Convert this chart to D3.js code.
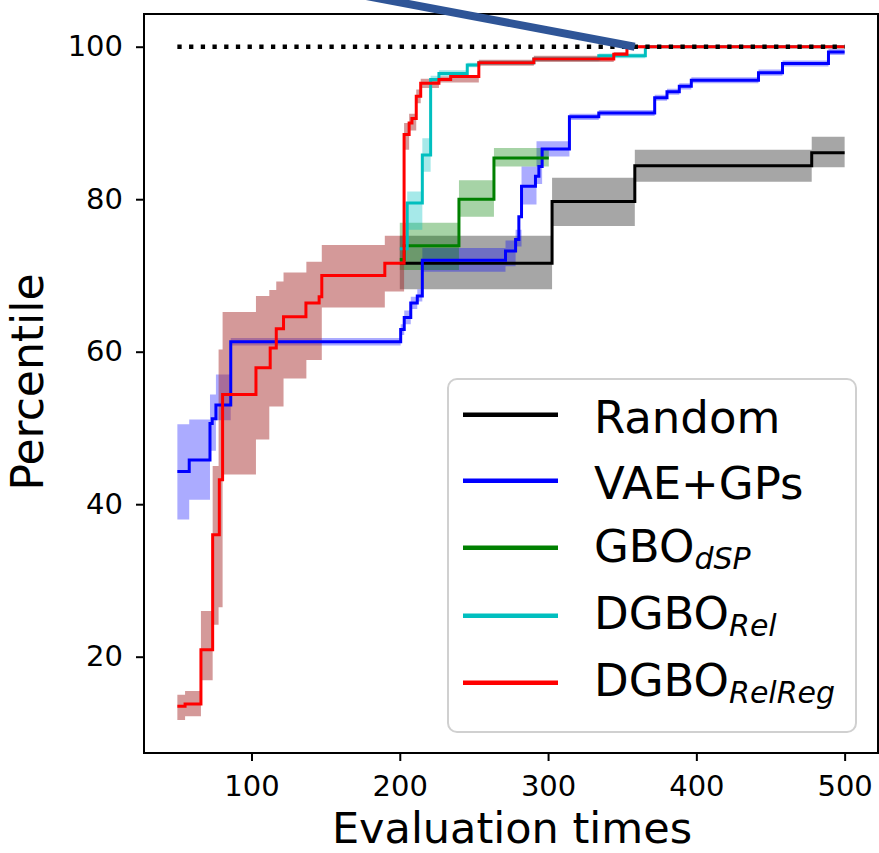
<!DOCTYPE html>
<html><head><meta charset="utf-8">
<script src="https://cdn.jsdelivr.net/npm/d3@7/dist/d3.min.js"></script>
<style>body{margin:0;background:#fff}svg{display:block}text{font-family:"DejaVu Sans",sans-serif;fill:#000}</style>
</head><body><svg id="c" width="879" height="853"></svg>
<script>
const xTicks = [100, 200, 300, 400, 500];
const yTicks = [20, 40, 60, 80, 100];
const xLabel = "Evaluation times";
const yLabel = "Percentile";
const names = ["Random", "VAE+GPs", "GBO", "DGBO", "DGBO"];
const subs = ["", "", "dSP", "Rel", "RelReg"];
const lineColors = ["#000000", "#0000ff", "#008000", "#00bfbf", "#ff0000"];
const bandColors = ["#000000", "#0000ff", "#008000", "#00bfbf", "#a52a2a"];

const randomMean = [[200,71.6],[302.7,79.7],[358.5,84.4],[477.8,86.1],[500,86.1]];
const randomBand = [[200,68.2,75.2],[302.7,76.5,82.8],[358.5,82.3,86.5],[477.8,84.2,88.2],[500,84.2,88.2]];

const vaeMean = [[50,44.3],[58,45.8],[72,50.6],[73.5,51.2],[76,53.0],[86,61.3],[200.6,62.9],[203,64.5],[207.4,66.4],[211.8,67.3],[215.2,72.0],[271.3,73.2],[278.1,74.7],[280.3,77.7],[282.1,81.7],[291.5,83.0],[293.8,84.3],[296,86.6],[314.4,90.8],[334.2,91.3],[371.9,93.3],[380.2,94.1],[388.5,94.8],[396.6,95.6],[441.9,96.6],[458.1,97.8],[489.1,99.3],[500,99.3]];
const vaeBand = [[50,38.0,50.5],[58,40.6,51.1],[72,47.0,54.4],[76,51.0,57.0],[86,60.8,61.8],[200.6,62.2,63.6],[203,63.6,65.4],[207.4,65.6,67.2],[211.8,66.6,68.2],[215.2,70.5,73.6],[271.3,71.2,74.6],[278.1,73.8,76.0],[282.1,79.3,84.3],[292.2,82.0,87.6],[296,85.6,87.6],[314.4,90.4,91.2],[334.2,90.9,91.7],[371.9,92.9,93.7],[380.2,93.7,94.5],[388.5,94.4,95.2],[396.6,95.2,96.0],[441.9,96.2,97.0],[458.1,97.4,98.2],[489.1,98.9,99.7],[500,98.9,99.7]];

const gboMean = [[200,72.1],[203,73.9],[239.9,80.0],[263.5,85.4],[300.5,85.4]];
const gboBand = [[200,70.7,76.9],[239.9,77.7,82.5],[263.5,84.3,86.7],[300.5,84.3,86.7]];

const relMean = [[200,73.5],[205,79.5],[215.2,85.8],[220.8,95.7],[226.4,96.5],[245.5,97.6],[253.3,97.9],[290.4,98.4],[334.2,98.8],[365.6,100],[500,100]];
const relBand = [[200,72.0,75.0],[205,76.0,81.0],[215.2,83.6,88.0],[220.8,95.2,96.2],[226.4,96.1,96.9],[245.5,97.3,97.9],[253.3,97.6,98.2],[290.4,98.1,98.7],[334.2,98.5,99.1],[365.6,100,100],[500,100,100]];

const regMean = [[50,13.5],[55.2,13.8],[65.9,20.9],[73.8,36.0],[78.3,43.2],[80.5,54.4],[103,57.9],[112.6,60.5],[116.7,63.0],[121.6,64.6],[136.7,66.4],[145.6,67.2],[147.4,70.0],[189.9,71.6],[202.9,88.5],[206.3,90.0],[208.2,90.6],[211.1,93.5],[214.1,95.2],[226.4,95.7],[234.3,96.1],[253.3,97.9],[290.4,98.4],[344.3,99.0],[353.2,100],[500,100]];
const regBand = [[50,11.7,15.0],[55.2,12.2,15.5],[65.9,16.9,26.0],[73.8,24.2,45.0],[77.8,26.5,60.3],[80.5,43.9,65.2],[103,48.5,67.3],[112,52.8,68.1],[116.7,52.8,69.2],[121.6,56.5,70.4],[137,58.9,71.8],[147.4,65.8,74.0],[189.9,67.9,75.2],[202.9,86.5,90.0],[206.3,89.0,91.2],[211.1,92.6,94.4],[214.1,94.6,95.8],[226.4,95.3,96.1],[253.3,97.5,98.3],[290.4,98.0,98.8],[344.3,98.7,99.3],[353.2,99.8,100.2],[500,99.8,100.2]];

const refLine = [[50,100],[500,100]];
const pointer = [[176,106.7],[358.4,100]];

const means = [randomMean, vaeMean, gboMean, relMean, regMean];
const bands = [randomBand, vaeBand, gboBand, relBand, regBand];

const svg = d3.select("#c");
const x = d3.scaleLinear().domain([27.5, 522.5]).range([144, 878]);
const y = d3.scaleLinear().domain([7.37, 104.29]).range([753, 14]);

const area = d3.area().curve(d3.curveStepAfter).x(d => x(d[0])).y0(d => y(d[1])).y1(d => y(d[2]));
const line = d3.line().curve(d3.curveStepAfter).x(d => x(d[0])).y(d => y(d[1]));

bands.forEach((b, i) => {
  svg.append("path").attr("d", area(b)).attr("fill", bandColors[i])
    .attr("fill-opacity", i === 4 ? 0.48 : (i === 1 ? 0.33 : 0.35)).attr("stroke", "none");
});
means.forEach((m, i) => {
  svg.append("path").attr("d", line(m)).attr("fill", "none")
    .attr("stroke", lineColors[i]).attr("stroke-width", 3);
});
svg.append("path").attr("d", d3.line().x(d => x(d[0])).y(d => y(d[1]))(refLine))
  .attr("fill", "none").attr("stroke", "#000").attr("stroke-width", 4.5)
  .attr("stroke-dasharray", "4.3,7.4");

// frame
svg.append("rect").attr("x", x.range()[0]).attr("y", y.range()[1])
  .attr("width", x.range()[1] - x.range()[0]).attr("height", y.range()[0] - y.range()[1])
  .attr("fill", "none").attr("stroke", "#000").attr("stroke-width", 2);

const gx = svg.append("g").attr("transform", `translate(0,${y.range()[0]})`)
  .call(d3.axisBottom(x).tickValues(xTicks).tickSize(8).tickPadding(14));
const gy = svg.append("g").attr("transform", `translate(${x.range()[0]},0)`)
  .call(d3.axisLeft(y).tickValues(yTicks).tickSize(8).tickPadding(13));
[gx, gy].forEach(g => {
  g.select(".domain").remove();
  g.selectAll(".tick line").attr("stroke", "#000").attr("stroke-width", 2);
  g.selectAll(".tick text").attr("font-size", 29).attr("font-family", "DejaVu Sans").attr("fill", "#000");
});

svg.append("text").attr("x", 512).attr("y", 843).attr("text-anchor", "middle")
  .attr("font-size", 43).text(xLabel);
svg.append("text").attr("transform", "translate(43,382) rotate(-90)").attr("text-anchor", "middle")
  .attr("font-size", 44).text(yLabel);

// legend
const lg = svg.append("g");
lg.append("rect").attr("x", 448).attr("y", 379).attr("width", 408).attr("height", 353)
  .attr("rx", 9).attr("fill", "#fff").attr("fill-opacity", 0.8)
  .attr("stroke", "#d0d0d0").attr("stroke-width", 2);
const rowY = [414.7, 480.7, 547.7, 615.7, 682.7];
const baseOff = [18, 18, 14, 13, 13];
names.forEach((n, i) => {
  lg.append("line").attr("x1", 463).attr("x2", 558).attr("y1", rowY[i]).attr("y2", rowY[i])
    .attr("stroke", lineColors[i]).attr("stroke-width", 4.5);
  const t = lg.append("text").attr("x", 594).attr("y", rowY[i] + baseOff[i]).attr("font-size", 45);
  t.append("tspan").text(n);
  if (subs[i]) {
    t.append("tspan").attr("font-size", 30).attr("font-style", "italic").attr("dy", 7).text(subs[i]);
  }
});

// pointer annotation
svg.append("path").attr("d", d3.line().x(d => x(d[0])).y(d => y(d[1]))(pointer))
  .attr("fill", "none").attr("stroke", "#2f5597").attr("stroke-width", 8);
</script></body></html>
